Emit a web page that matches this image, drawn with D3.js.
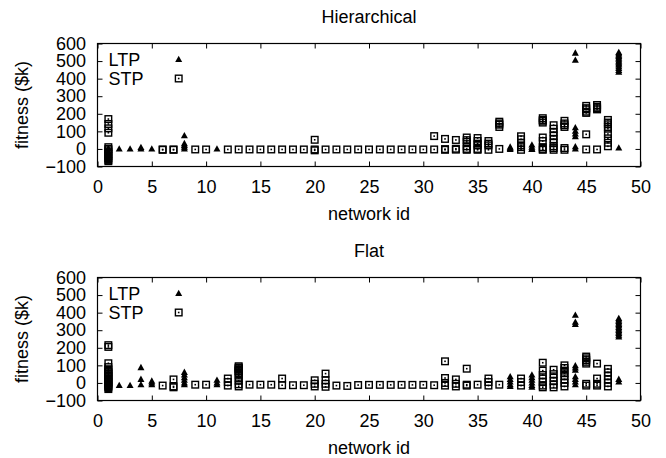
<!DOCTYPE html>
<html>
<head>
<meta charset="utf-8">
<script src="https://cdn.jsdelivr.net/npm/d3@7"></script>
<style>
body { margin: 0; background: #fff; }
svg text { font-family: "Liberation Sans", Arial, Helvetica, sans-serif; }
</style>
</head>
<body>
<svg width="666" height="458"></svg>
<script>
// values per network id: [id, [fitness values in $k]]
var hierLtp = [
    [1, [2, -12, -25, -38, -50, -60, -70]],
    [2, [0]], [3, [0]], [4, [8, 0]], [5, [0]],
    [8, [75, 30, 20, 10, 0]],
    [11, [0]],
    [38, [10, 2, -3]],
    [40, [22, 10, 0, -3]],
    [44, [545, 505, 120, 100, 85, 70, 12, 0]],
    [48, [549, 541, 533, 526, 517, 510, 501, 494, 485, 477, 467, 458, 447, 436, 5]]
];
var hierStp = [
    [1, [170, 142, 117, 92, 10, 0, -8, -18, -28, -40, -52, -62, -70]],
    [6, [-5, -3]], [7, [-5, -3]], [9, [-3]], [10, [-3]],
    [12, [-3]], [13, [-3]], [14, [-3]], [15, [-3]], [16, [-3]], [17, [-3]], [18, [-3]], [19, [-3]],
    [20, [52, -3, -8]],
    [21, [-3]], [22, [-3]], [23, [-3]], [24, [-3]], [25, [-3]], [26, [-3]], [27, [-3]], [28, [-3]], [29, [-3]], [30, [-3]],
    [31, [73, -3]],
    [32, [57, -1, -5]],
    [33, [51, 1, -4]],
    [34, [65, 50, 40, 15, 0, -5]],
    [35, [62, 45, 30, 20, 0, -5]],
    [36, [45, 30, 20, -5]],
    [37, [155, 145, 138, 125, 0]],
    [39, [72, 55, 35, 20, 10, -5]],
    [41, [175, 165, 160, 150, 65, 45, 10, 0, -5]],
    [42, [135, 115, 95, 75, 55, 35, 15, 5, -5]],
    [43, [160, 145, 135, 125, 5, -5]],
    [45, [245, 232, 225, 212, 205, 83, -3]],
    [46, [250, 240, 232, 225, -3]],
    [47, [165, 150, 140, 125, 115, 85, 60, 35, 15]]
];
var flatLtp = [
    [1, [5, -10, -25, -38]],
    [2, [-15]], [3, [-15]],
    [4, [87, 20, -10]],
    [5, [10, 0, -10]],
    [8, [60, 45, 30, 15, 0, -10]],
    [11, [15, 0, -10]],
    [38, [35, 20, 5, -10, -20]],
    [40, [45, 30, 15, 0, -15, -25]],
    [44, [385, 345, 332, 98, 85, 72, 35, 20, 5, -10]],
    [48, [366, 358, 350, 341, 333, 325, 316, 307, 299, 290, 281, 272, 262, 20, 5]]
];
var flatStp = [
    [1, [215, 205, 112, 90, 78, 70, 62, 55, 48, 40, 33, 25, 18, 10, 5, -3, -10, -18, -25, -35]],
    [6, [-15]],
    [7, [20, -20, -25]],
    [9, [-10]], [10, [-10]],
    [12, [25, 5, -15]],
    [13, [95, 88, 85, 78, 75, 68, 65, 55, 42, 28, 12, -8, -20]],
    [14, [-10]], [15, [-10]], [16, [-10]],
    [17, [25, -13]],
    [18, [-13]], [19, [-13]],
    [20, [15, -5, -20]],
    [21, [53, 15, -5, -22]],
    [22, [-15]], [23, [-17]], [24, [-12]], [25, [-11]], [26, [-11]], [27, [-11]], [28, [-11]], [29, [-11]], [30, [-11]],
    [31, [-13]],
    [32, [123, 28, 0, -15]],
    [33, [20, -5, -20]],
    [34, [81, -10, -15]],
    [35, [-10]],
    [36, [25, 5, -15]],
    [37, [-10]],
    [39, [25, 5, -15]],
    [41, [115, 70, 45, 25, 5, -15, -25]],
    [42, [75, 50, 30, 10, -10, -25]],
    [43, [100, 85, 70, 55, 40, 20, 0, -20]],
    [45, [150, 140, 130, 120, 110, -5, -15]],
    [46, [110, 25, -5, -15]],
    [47, [80, 60, 40, 20, 0, -20]]
];
var xTicks = d3.range(0, 51, 5);
var yTicks = [-100, 0, 100, 200, 300, 400, 500, 600];
var seriesNames = ["LTP", "STP"];

var svg = d3.select("svg");
var left = 97.5, right = 640.5, plotH = 123;
var fontSize = "18px";

// flatten [id, [values]] into points
function flatten(groups) {
    var out = [];
    groups.forEach(function (g) {
        g[1].forEach(function (v) { out.push({ id: g[0], v: v }); });
    });
    return out;
}

function drawTriangle(sel) {
    sel.append("path").attr("d", "M0,-3.8L3.5,2.5L-3.5,2.5Z").attr("fill", "#000");
}
function drawSquare(sel) {
    sel.append("rect").attr("x", -3.3).attr("y", -3.3).attr("width", 6.6).attr("height", 6.6)
        .attr("fill", "none").attr("stroke", "#000").attr("stroke-width", 1.4);
    sel.append("rect").attr("x", -0.8).attr("y", -0.8).attr("width", 1.6).attr("height", 1.6)
        .attr("fill", "#000");
}

function drawPanel(top, title, ltp, stp) {
    var g = svg.append("g");
    var x = d3.scaleLinear().domain([0, 50]).range([left, right]);
    var y = d3.scaleLinear().domain([-100, 600]).range([top + plotH, top]);

    g.append("text").attr("x", (left + right) / 2).attr("y", top - 20.8)
        .attr("text-anchor", "middle").attr("font-size", fontSize).text(title);

    // axes with inward ticks
    var xb = g.append("g").attr("transform", "translate(0," + (top + plotH) + ")")
        .call(d3.axisBottom(x).tickValues(xTicks).tickSize(-5).tickPadding(13.4));
    var xt = g.append("g").attr("transform", "translate(0," + top + ")")
        .call(d3.axisTop(x).tickValues(xTicks).tickSize(-5).tickFormat(""));
    var yl = g.append("g").attr("transform", "translate(" + left + ",0)")
        .call(d3.axisLeft(y).tickValues(yTicks).tickSize(-5).tickPadding(11.5));
    var yr = g.append("g").attr("transform", "translate(" + right + ",0)")
        .call(d3.axisRight(y).tickValues(yTicks).tickSize(-5).tickFormat(""));
    [xb, xt, yl, yr].forEach(function (a) {
        a.select(".domain").remove();
        a.selectAll("text").attr("font-size", fontSize).attr("fill", "#000")
            .style("font-family", "'Liberation Sans', Arial, sans-serif");
        a.selectAll("line").attr("stroke", "#000");
    });

    g.append("rect").attr("x", left).attr("y", top).attr("width", right - left).attr("height", plotH)
        .attr("fill", "none").attr("stroke", "#000").attr("stroke-width", 1.2);

    g.append("text").attr("x", (left + right) / 2).attr("y", top + plotH + 53.5)
        .attr("text-anchor", "middle").attr("font-size", fontSize).text("network id");
    g.append("text").attr("transform", "translate(27.5," + (top + plotH / 2) + ") rotate(-90)")
        .attr("text-anchor", "middle").attr("font-size", fontSize).text("fitness ($k)");

    // points: LTP first, STP on top
    g.append("g").selectAll("g").data(flatten(ltp)).enter().append("g")
        .attr("transform", function (d) { return "translate(" + x(d.id) + "," + y(d.v) + ")"; })
        .call(drawTriangle);
    g.append("g").selectAll("g").data(flatten(stp)).enter().append("g")
        .attr("transform", function (d) { return "translate(" + x(d.id) + "," + y(d.v) + ")"; })
        .call(drawSquare);

    // key
    var key = g.append("g");
    seriesNames.forEach(function (name, i) {
        var cy = top + 16 + i * 19;
        key.append("text").attr("x", 108.5).attr("y", cy + 6.5).attr("font-size", fontSize).text(name);
        var m = key.append("g").attr("transform", "translate(178.7," + cy + ")");
        if (i === 0) drawTriangle(m); else drawSquare(m);
    });
}

drawPanel(43.5, "Hierarchical", hierLtp, hierStp);
drawPanel(277.5, "Flat", flatLtp, flatStp);
</script>
</body>
</html>
